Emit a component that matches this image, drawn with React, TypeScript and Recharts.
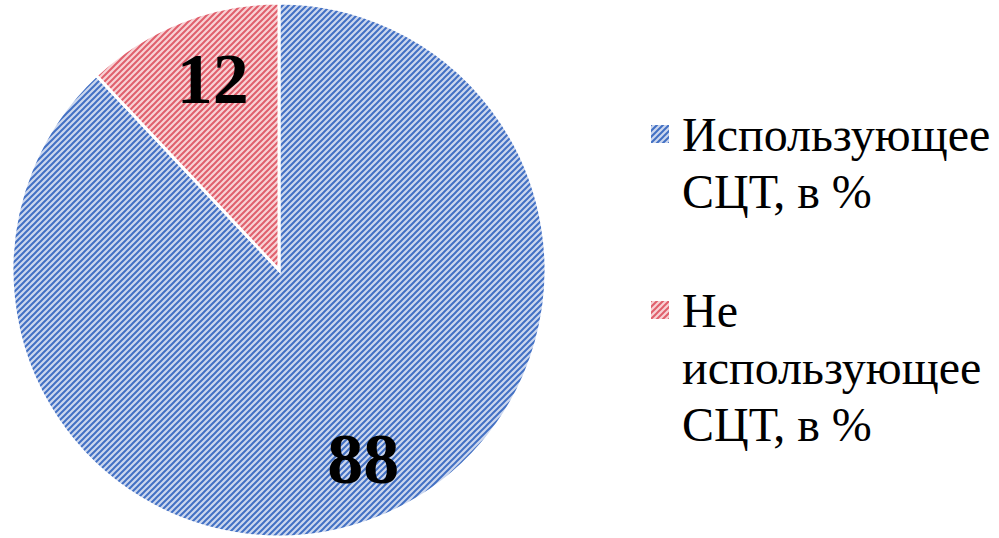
import React from "react";
import { PieChart, Pie, Cell, Legend } from "recharts";

const categories = ["Использующее СЦТ, в %", "Не использующее СЦТ, в %"];
const values = [88, 12];
const patternIds = ["hatchBlue", "hatchRed"];

const data = categories.map((name, i) => ({ name, value: values[i] }));

const SERIF = "'Liberation Serif', 'Times New Roman', serif";
const RAD = Math.PI / 180;

// labels sit a bit inside the rim, nudged right like Excel's best-fit placement
const renderLabel = (props: any) => {
  const { cx, cy, midAngle, outerRadius, value } = props;
  const r = outerRadius * 0.765;
  const x = cx + r * Math.cos(midAngle * RAD) + 9;
  const y = cy - r * Math.sin(midAngle * RAD) - 1;
  return (
    <text
      x={x}
      y={y}
      textAnchor="middle"
      dominantBaseline="central"
      fill="#000"
      style={{ fontFamily: SERIF, fontWeight: 700, fontSize: 72 }}
    >
      {value}
    </text>
  );
};

const renderLegend = () => (
  <div style={{ fontFamily: SERIF, fontSize: 48, lineHeight: "57px", color: "#000" }}>
    {data.map((d, i) => (
      <div key={d.name} style={{ display: "flex", alignItems: "flex-start", marginBottom: i === 0 ? 62 : 0 }}>
        <svg width={18} height={18} style={{ marginTop: 19, marginRight: 13, flexShrink: 0 }}>
          <rect width={18} height={18} fill={`url(#${patternIds[i]})`} />
        </svg>
        <span style={{ width: 316 }}>{d.name}</span>
      </div>
    ))}
  </div>
);

export default function App() {
  return (
    <div style={{ position: "absolute", left: 0, top: 0, width: 999, height: 538, background: "#fff", fontFamily: SERIF }}>
      <PieChart width={999} height={538} margin={{ top: 0, right: 0, bottom: 0, left: 0 }}>
        <defs>
          <pattern id="hatchBlue" patternUnits="userSpaceOnUse" width={6} height={6}>
            <rect width={6} height={6} fill="#ccd7ee" />
            <path d="M0,6 L6,0 M-1,1 L1,-1 M5,7 L7,5" stroke="#4270c4" strokeWidth={2} />
          </pattern>
          <pattern id="hatchRed" patternUnits="userSpaceOnUse" width={6} height={6}>
            <rect width={6} height={6} fill="#f8d2d5" />
            <path d="M0,6 L6,0 M-1,1 L1,-1 M5,7 L7,5" stroke="#e05f6c" strokeWidth={2} />
          </pattern>
        </defs>
        <Pie
          data={data}
          dataKey="value"
          nameKey="name"
          cx={279}
          cy={270}
          outerRadius={267}
          startAngle={90}
          endAngle={-270}
          stroke="#fff"
          strokeWidth={3}
          label={renderLabel}
          labelLine={false}
          isAnimationActive={false}
        >
          {data.map((d, i) => (
            <Cell key={d.name} fill={`url(#${patternIds[i]})`} />
          ))}
        </Pie>
        <Legend
          content={renderLegend}
          wrapperStyle={{ position: "absolute", left: 651, top: 106, width: 348 }}
        />
      </PieChart>
    </div>
  );
}
